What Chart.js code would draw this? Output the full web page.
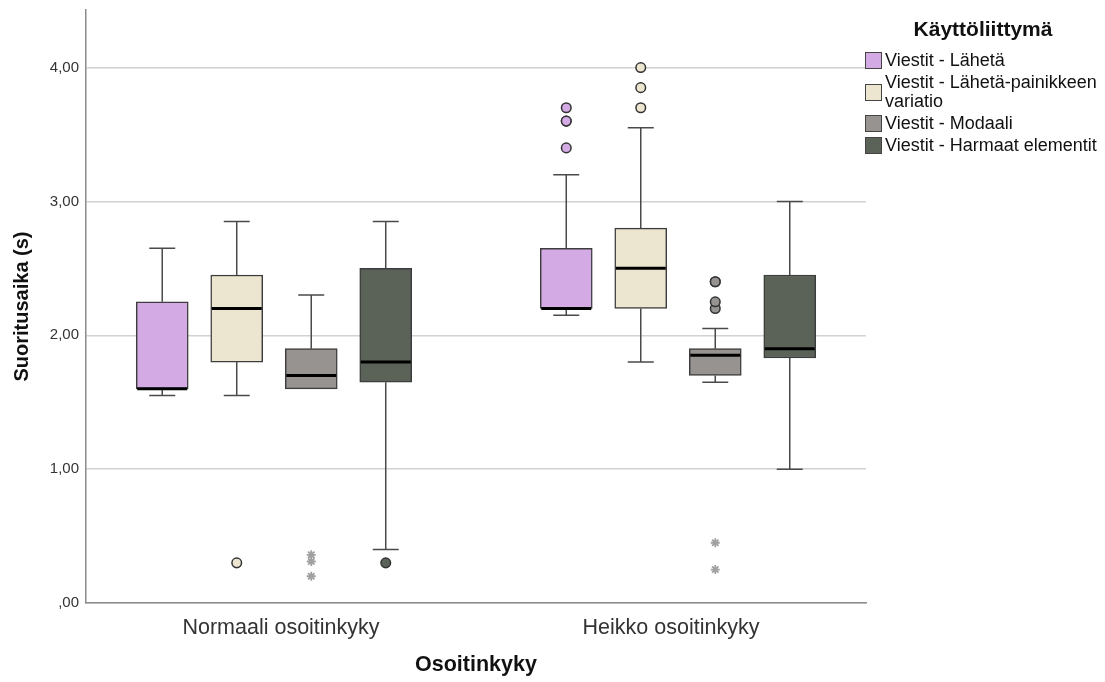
<!DOCTYPE html>
<html lang="fi">
<head>
<meta charset="UTF-8">
<title>Suoritusaika</title>
<script src="https://cdn.jsdelivr.net/npm/chart.js@4.4.0/dist/chart.umd.min.js"></script>
<style>
    body { margin: 0; background: #fff; font-family: Arial, "Liberation Sans", sans-serif; }
    #wrap { position: relative; width: 1105px; height: 682px; }
    #legend { position: absolute; left: 865px; top: 17px; width: 240px; color: #111; }
    #legend .otsikko { font-weight: bold; font-size: 21px; text-align: center; margin-left: -4px; margin-bottom: 10px; }
    #legend .rivi { display: flex; align-items: center; font-size: 18px; line-height: 19px; margin-bottom: 3px; }
    #legend .laatikko { width: 15px; height: 15px; border: 1.5px solid #444; margin-right: 3px; flex: none; }
</style>
</head>
<body>
<div id="wrap">
    <canvas id="kaavio"></canvas>
    <div id="legend"></div>
</div>
<script>
// ryhmät ja sarjat
const categories = ['Normaali osoitinkyky', 'Heikko osoitinkyky'];
const seriesNames = ['Viestit - Lähetä', 'Viestit - Lähetä-painikkeen variatio', 'Viestit - Modaali', 'Viestit - Harmaat elementit'];
const seriesColors = ['#D3AAE3', '#ECE5CF', '#979391', '#5B6359'];

// [alaviiksi, Q1, mediaani, Q3, yläviiksi] per ryhmä
const boxLaheta    = [[1.55, 1.60, 1.60, 2.25, 2.65], [2.15, 2.20, 2.20, 2.65, 3.20]];
const boxVariaatio = [[1.55, 1.80, 2.20, 2.45, 2.85], [1.80, 2.20, 2.50, 2.80, 3.55]];
const boxModaali   = [[1.60, 1.60, 1.70, 1.90, 2.30], [1.65, 1.70, 1.85, 1.90, 2.05]];
const boxHarmaat   = [[0.40, 1.65, 1.80, 2.50, 2.85], [1.00, 1.83, 1.90, 2.45, 3.00]];

// poikkeavat (ympyrät) ja ääriarvot (tähdet)
const outLaheta    = [[], [3.40, 3.60, 3.60, 3.70]];
const outVariaatio = [[0.30], [3.70, 3.85, 4.00]];
const outModaali   = [[], [2.20, 2.25, 2.40, 2.40]];
const outHarmaat   = [[0.30], []];
const extModaali   = [[0.20, 0.31, 0.36], [0.25, 0.45]];
const extMuut      = [[], []];

const yTicks = [0, 1, 2, 3, 4];

const boxes = [boxLaheta, boxVariaatio, boxModaali, boxHarmaat];
const outliers = [outLaheta, outVariaatio, outModaali, outHarmaat];
const extremes = [extMuut, extMuut, extModaali, extMuut];

// laatikon paikka piilotetulla x-akselilla
const BAR_W = 52;
function f_pos(g, i) { return g + (i - 1.5) * 0.1844; }

const datasets = [];
boxes.forEach(function (b, i) {
    datasets.push({
        type: 'bar',
        label: seriesNames[i],
        xAxisID: 'xb',
        grouped: false,
        barThickness: BAR_W,
        data: b.map(function (s, g) { return { x: f_pos(g, i), y: [s[1], s[3]] }; }),
        backgroundColor: seriesColors[i],
        borderColor: '#3d3d3d',
        borderWidth: 1.5,
        borderSkipped: false,
        order: 2
    });
});
outliers.forEach(function (o, i) {
    const pts = [];
    o.forEach(function (arr, g) { arr.forEach(function (v) { pts.push({ x: f_pos(g, i), y: v }); }); });
    datasets.push({
        type: 'scatter', xAxisID: 'xb', data: pts,
        pointStyle: 'circle', pointRadius: 4.8,
        pointBackgroundColor: seriesColors[i], pointBorderColor: '#333', pointBorderWidth: 1.5,
        order: 1
    });
});
extremes.forEach(function (o, i) {
    const pts = [];
    o.forEach(function (arr, g) { arr.forEach(function (v) { pts.push({ x: f_pos(g, i), y: v }); }); });
    datasets.push({
        type: 'scatter', xAxisID: 'xb', data: pts,
        pointStyle: 'star', pointRadius: 4.5,
        pointBorderColor: '#a0a0a0', pointBorderWidth: 1.8,
        order: 1
    });
});

// viikset ja mediaanit piirretään asteikkojen kautta
const boxPlugin = {
    id: 'viikset',
    beforeDatasetsDraw(chart) {
        const ctx = chart.ctx, xs = chart.scales.xb, ys = chart.scales.y;
        ctx.save();
        ctx.strokeStyle = '#4a4a4a';
        ctx.lineWidth = 1.5;
        boxes.forEach(function (b, i) {
            b.forEach(function (s, g) {
                const x = xs.getPixelForValue(f_pos(g, i));
                const half = BAR_W / 4;
                [[s[0], s[1]], [s[4], s[3]]].forEach(function (p) {
                    if (p[0] === p[1]) return;
                    const y0 = ys.getPixelForValue(p[0]), y1 = ys.getPixelForValue(p[1]);
                    ctx.beginPath();
                    ctx.moveTo(x, y0); ctx.lineTo(x, y1);
                    ctx.moveTo(x - half, y0); ctx.lineTo(x + half, y0);
                    ctx.stroke();
                });
            });
        });
        ctx.restore();
    },
    afterDatasetsDraw(chart) {
        const ctx = chart.ctx, xs = chart.scales.xb, ys = chart.scales.y;
        ctx.save();
        ctx.strokeStyle = '#000';
        ctx.lineWidth = 3;
        boxes.forEach(function (b, i) {
            b.forEach(function (s, g) {
                const x = xs.getPixelForValue(f_pos(g, i));
                const y = ys.getPixelForValue(s[2]);
                ctx.beginPath();
                ctx.moveTo(x - BAR_W / 2 + 1, y); ctx.lineTo(x + BAR_W / 2 - 1, y);
                ctx.stroke();
            });
        });
        ctx.restore();
    }
};

const kaavio = new Chart(document.getElementById('kaavio'), {
    type: 'bar',
    data: { labels: categories, datasets: datasets },
    plugins: [boxPlugin],
    options: {
        responsive: true,
        maintainAspectRatio: false,
        animation: false,
        layout: { padding: { top: 10, right: 239, left: 0, bottom: 0 } },
        plugins: { legend: { display: false }, tooltip: { enabled: false } },
        scales: {
            x: {
                type: 'category',
                offset: true,
                grid: { display: false, drawTicks: false },
                border: { display: true, color: '#8c8c8c', width: 1.5 },
                ticks: { color: '#333', font: { family: 'Arial, "Liberation Sans"', size: 21.5 }, padding: 12, maxRotation: 0 },
                title: { display: true, text: 'Osoitinkyky', color: '#111', font: { family: 'Arial, "Liberation Sans"', size: 21.5, weight: 'bold' }, padding: { top: 0, bottom: 4 } },
                afterFit: function (s) { s.height = 79; }
            },
            xb: {
                type: 'linear',
                display: false,
                offset: false,
                min: -0.4653,
                max: 1.4653
            },
            y: {
                type: 'linear',
                min: 0,
                max: 4.43,
                grid: { color: '#d2d2d2', lineWidth: 1.5, drawTicks: false },
                border: { display: true, color: '#8c8c8c', width: 1.5 },
                afterBuildTicks: function (s) { s.ticks = yTicks.map(function (v) { return { value: v }; }); },
                ticks: {
                    color: '#333', padding: 7,
                    font: { family: 'Arial, "Liberation Sans"', size: 15 },
                    callback: function (v) { return v.toFixed(2).replace('.', ',').replace(/^0/, ''); }
                },
                title: { display: true, text: 'Suoritusaika (s)', color: '#111', font: { family: 'Arial, "Liberation Sans"', size: 20, weight: 'bold' }, padding: { top: 10, bottom: 0 } },
                afterFit: function (s) { s.width = 86; s.paddingTop = 0; s.paddingBottom = 0; }
            }
        }
    }
});

// selite HTML:nä (pitkä nimi rivittyy)
const leg = document.getElementById('legend');
let html = '<div class="otsikko">Käyttöliittymä</div>';
seriesNames.forEach(function (n, i) {
    html += '<div class="rivi"><span class="laatikko" style="background:' + seriesColors[i] + '"></span><span>' + n + '</span></div>';
});
leg.innerHTML = html;
</script>
</body>
</html>
